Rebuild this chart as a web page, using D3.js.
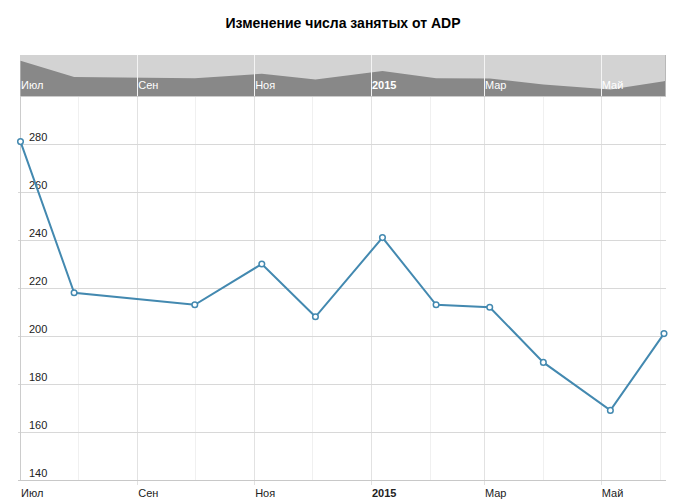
<!DOCTYPE html>
<html>
<head>
<meta charset="utf-8">
<script src="https://cdn.jsdelivr.net/npm/d3@7"></script>
<style>
  body { margin: 0; background: #fff; }
  text { font-family: "Liberation Sans", Arial, sans-serif; }
</style>
</head>
<body>
<script>
var width = 686, height = 500;

// ADP release dates and values (thousands)
var dates = ["2014-07-02", "2014-07-30", "2014-10-01", "2014-11-05", "2014-12-03",
             "2015-01-07", "2015-02-04", "2015-03-04", "2015-04-01", "2015-05-06", "2015-06-03"];
var values = [281, 218, 213, 230, 208, 241, 213, 212, 189, 169, 201];
var yTicks = [140, 160, 180, 200, 220, 240, 260, 280];
var monthNames = ["Янв", "Фев", "Мар", "Апр", "Май", "Июн", "Июл", "Авг", "Сен", "Окт", "Ноя", "Дек"];
var title = "Изменение числа занятых от ADP";

var parse = d3.timeParse("%Y-%m-%d");
var data = dates.map(function(d, i) { return {date: parse(d), value: values[i]}; });

var left = 20, right = 666, plotTop = 97, plotBottom = 480;
var navTop = 55, navBottom = 96;

var svg = d3.select("body").append("svg")
    .attr("width", width)
    .attr("height", height);

var x = d3.scaleTime()
    .domain(d3.extent(data, function(d) { return d.date; }))
    .range([left + 0.5, 664]);

var y = d3.scaleLinear().domain([140, 300]).range([plotBottom, 96]);
var yNav = d3.scaleLinear().domain([144, 303]).range([navBottom, navTop]);

var majorTicks = d3.timeMonth.range(new Date(2014, 6, 1), new Date(2015, 5, 2), 2);
var minorTicks = d3.timeMonth.range(new Date(2014, 7, 1), new Date(2015, 6, 2), 2);

function tickLabel(d) {
  return d.getMonth() === 0 ? String(d.getFullYear()) : monthNames[d.getMonth()];
}

// title
svg.append("text")
    .attr("x", width / 2)
    .attr("y", 28)
    .attr("text-anchor", "middle")
    .style("font-size", "14px")
    .style("font-weight", "bold")
    .attr("fill", "#000")
    .text(title);

// navigator
var nav = svg.append("g");
nav.append("rect")
    .attr("x", left).attr("y", navTop)
    .attr("width", right - left).attr("height", navBottom - navTop)
    .attr("fill", "#d3d3d3");

var area = d3.area()
    .x(function(d) { return x(d.date); })
    .y0(navBottom)
    .y1(function(d) { return yNav(d.value); });

var navData = data.slice();
navData.push({date: x.invert(right), value: values[values.length - 1] + 3});
nav.append("path")
    .datum(navData)
    .attr("d", area)
    .attr("fill", "#888888");

nav.selectAll(".navgrid")
    .data(majorTicks.filter(function(d) { return x(d) > left; }))
  .enter().append("line")
    .attr("class", "navgrid")
    .attr("x1", function(d) { return Math.round(x(d)) + 0.5; })
    .attr("x2", function(d) { return Math.round(x(d)) + 0.5; })
    .attr("y1", navTop).attr("y2", navBottom)
    .attr("stroke", "#f4f4f4")
    .attr("stroke-width", 1);

nav.selectAll(".navlabel")
    .data(majorTicks)
  .enter().append("text")
    .attr("class", "navlabel")
    .attr("x", function(d) { return Math.max(x(d), left) + 1; })
    .attr("y", 89)
    .attr("fill", "#fff")
    .style("font-size", "11px")
    .style("font-weight", function(d) { return d.getMonth() === 0 ? "bold" : "normal"; })
    .text(tickLabel);

nav.append("line")
    .attr("x1", right - 0.5).attr("x2", right - 0.5)
    .attr("y1", navTop).attr("y2", navBottom)
    .attr("stroke", "#b8b8b8");
nav.append("line")
    .attr("x1", left).attr("x2", right)
    .attr("y1", navBottom + 0.5).attr("y2", navBottom + 0.5)
    .attr("stroke", "#cccccc");

// vertical grid
svg.selectAll(".minor")
    .data(minorTicks)
  .enter().append("line")
    .attr("class", "minor")
    .attr("x1", function(d) { return Math.round(x(d)) + 0.5; })
    .attr("x2", function(d) { return Math.round(x(d)) + 0.5; })
    .attr("y1", plotTop).attr("y2", plotBottom)
    .attr("stroke", "#f0f0f0");

svg.selectAll(".major")
    .data(majorTicks.filter(function(d) { return x(d) > left; }))
  .enter().append("line")
    .attr("class", "major")
    .attr("x1", function(d) { return Math.round(x(d)) + 0.5; })
    .attr("x2", function(d) { return Math.round(x(d)) + 0.5; })
    .attr("y1", plotTop).attr("y2", plotBottom + 5)
    .attr("stroke", "#e2e2e2");

// horizontal grid + y labels
svg.selectAll(".hgrid")
    .data(yTicks)
  .enter().append("line")
    .attr("class", "hgrid")
    .attr("x1", left - 2).attr("x2", right)
    .attr("y1", function(d) { return Math.round(y(d)) + 0.5; })
    .attr("y2", function(d) { return Math.round(y(d)) + 0.5; })
    .attr("stroke", function(d) { return d === 140 ? "#c8c8c8" : "#d8d8d8"; });

svg.selectAll(".ylabel")
    .data(yTicks)
  .enter().append("text")
    .attr("class", "ylabel")
    .attr("x", 29)
    .attr("y", function(d) { return y(d) - 3; })
    .attr("fill", "#222")
    .style("font-size", "11px")
    .text(function(d) { return d; });

// y axis line
svg.append("line")
    .attr("x1", left + 0.5).attr("x2", left + 0.5)
    .attr("y1", plotTop).attr("y2", plotBottom)
    .attr("stroke", "#cccccc");

// x labels
svg.selectAll(".xlabel")
    .data(majorTicks)
  .enter().append("text")
    .attr("class", "xlabel")
    .attr("x", function(d) { return Math.max(x(d), left) + 1; })
    .attr("y", 497)
    .attr("fill", "#222")
    .style("font-size", "11px")
    .style("font-weight", function(d) { return d.getMonth() === 0 ? "bold" : "normal"; })
    .text(tickLabel);

// series
var line = d3.line()
    .x(function(d) { return x(d.date); })
    .y(function(d) { return y(d.value); });

svg.append("path")
    .datum(data)
    .attr("d", line)
    .attr("fill", "none")
    .attr("stroke", "#4389b0")
    .attr("stroke-width", 2);

svg.selectAll(".point")
    .data(data)
  .enter().append("circle")
    .attr("class", "point")
    .attr("cx", function(d) { return x(d.date); })
    .attr("cy", function(d) { return y(d.value); })
    .attr("r", 2.8)
    .attr("fill", "#fff")
    .attr("stroke", "#4389b0")
    .attr("stroke-width", 1.5);
</script>
</body>
</html>
